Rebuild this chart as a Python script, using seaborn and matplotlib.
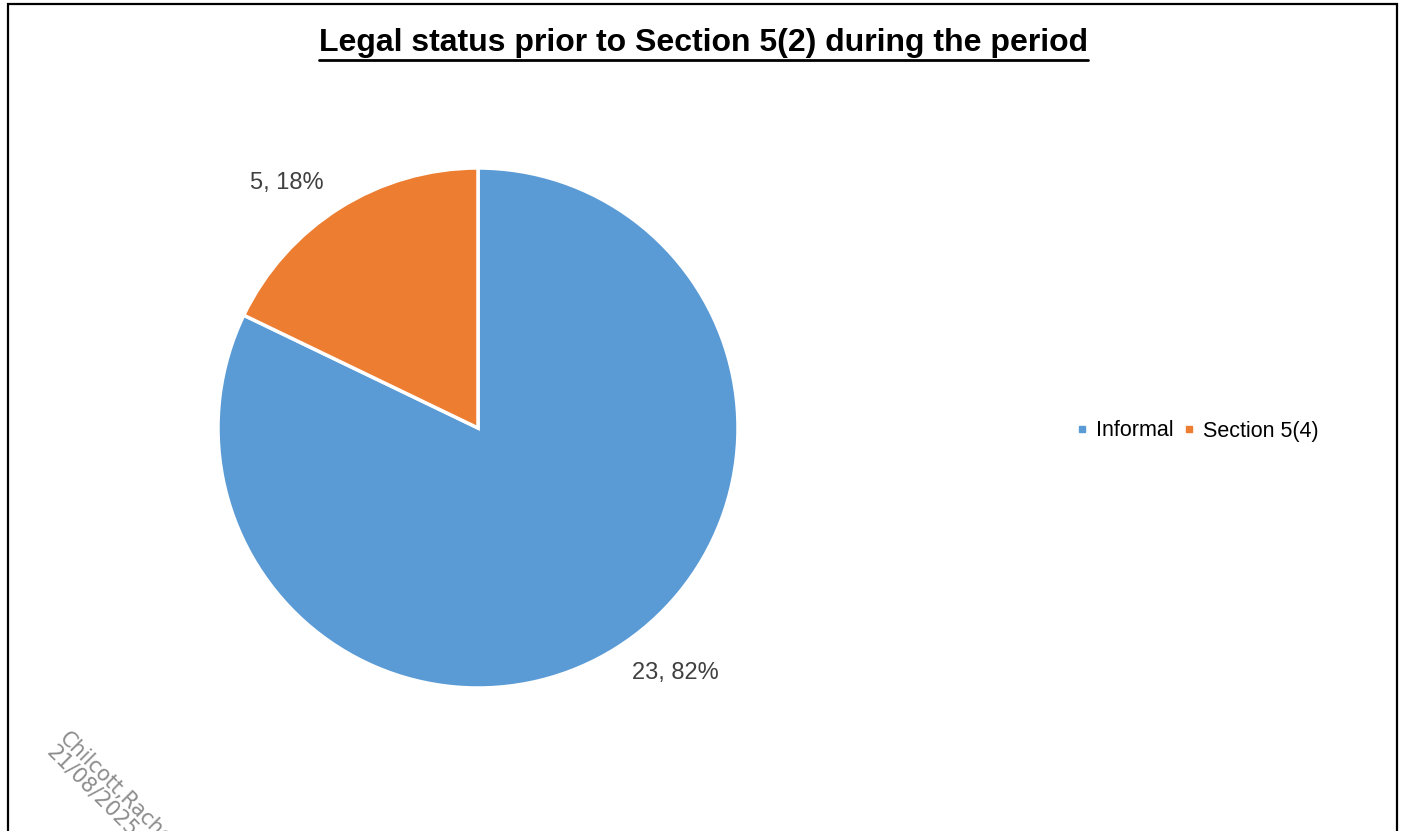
import matplotlib
matplotlib.use("Agg")
import matplotlib.pyplot as plt
from matplotlib.patches import Rectangle
import seaborn as sns

# Admissions by legal status prior to Section 5(2)
categories = ["Informal", "Section 5(4)"]
counts = [23, 5]
colors = ["#5B9BD5", "#ED7D31"]
title = "Legal status prior to Section 5(2) during the period"
watermark = "Chilcott,Rachel\n21/08/2025"

sns.set_theme(style="white")
plt.rcParams["font.family"] = ["Liberation Sans", "DejaVu Sans"]

W, H = 1407, 831
fig = plt.figure(figsize=(W / 100, H / 100), dpi=100)

# pie axes: centre (478, 428), radius 260 px
cx, cy, r = 478, 428, 260
ax = fig.add_axes([(cx - r) / W, 1 - (cy + r) / H, 2 * r / W, 2 * r / H])

total = sum(counts)
labels = [f"{c}, {round(100 * c / total)}%" for c in counts]

wedges, texts = ax.pie(
    counts,
    colors=colors,
    startangle=90,
    counterclock=False,
    labels=labels,
    labeldistance=1.115,
    wedgeprops=dict(edgecolor="white", linewidth=2.5),
    textprops=dict(fontsize=17, color="#404040"),
)
ax.set_xlim(-1, 1)
ax.set_ylim(-1, 1)
ax.set_aspect("equal")
for t in texts:
    t.set_clip_on(False)

# title with an underline spanning the text
title_txt = fig.text(0.5, 1 - 43 / H, title, ha="center", va="center",
                     fontsize=23, fontweight="bold", color="black")
fig.canvas.draw()
bb = title_txt.get_window_extent()
fig.add_artist(plt.Line2D([bb.x0 / W, bb.x1 / W], [1 - 60 / H, 1 - 60 / H],
                          transform=fig.transFigure, color="black", lw=2))

# legend on the right
handles = [plt.Line2D([0], [0], marker="s", linestyle="", markersize=5,
                      markerfacecolor=c, markeredgecolor=c) for c in colors]
fig.legend(handles, categories, loc="center", bbox_to_anchor=(1197 / W, 1 - 431 / H),
           ncol=2, frameon=False, fontsize=15.5, handletextpad=0.35,
           columnspacing=0.45, handlelength=0.6, labelcolor="black")

# chart frame
fig.add_artist(Rectangle((8 / W, -0.1), (1397 - 8) / W, 1.1 - 4 / H,
                         transform=fig.transFigure, fill=False,
                         edgecolor="black", lw=1.6))

# rotated stamp in the lower left
fig.text(70 / W, 1 - 728 / H, watermark, rotation=-45, rotation_mode="anchor",
         ha="left", va="top", fontsize=15, color="#8c8c8c",
         family=["DejaVu Sans"], linespacing=0.95)

fig.savefig("out.png", dpi=100)
